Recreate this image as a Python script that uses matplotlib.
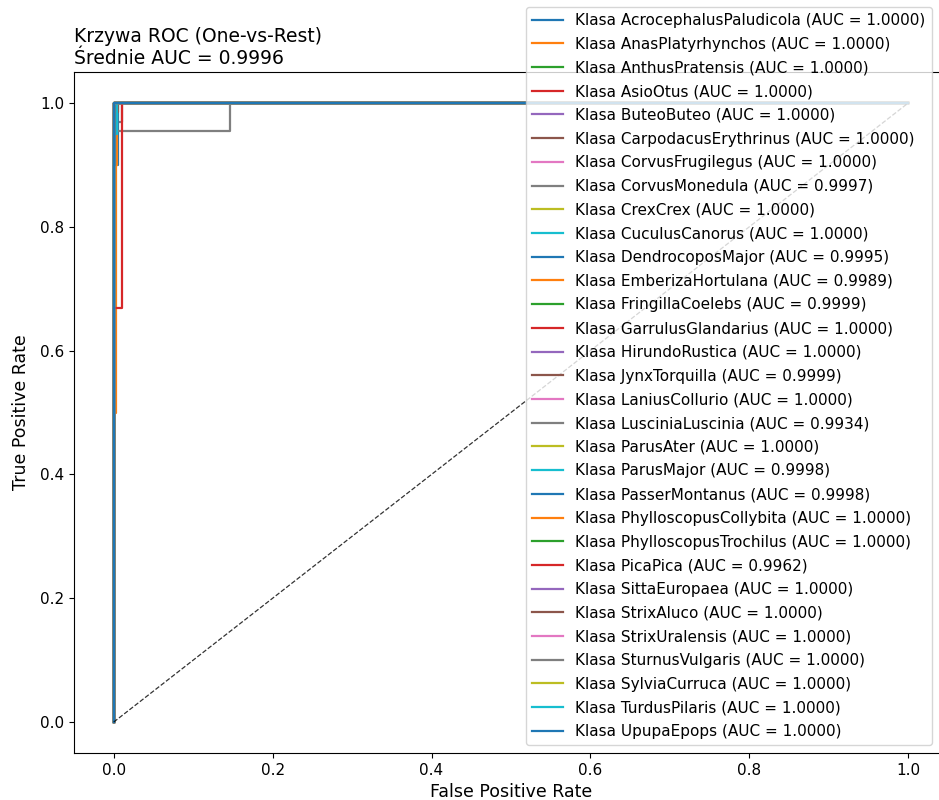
import matplotlib
import matplotlib.pyplot as plt

matplotlib.use('Agg')

# nazwy klas i AUC z legendy
class_names = [
    'AcrocephalusPaludicola', 'AnasPlatyrhynchos', 'AnthusPratensis', 'AsioOtus',
    'ButeoButeo', 'CarpodacusErythrinus', 'CorvusFrugilegus', 'CorvusMonedula',
    'CrexCrex', 'CuculusCanorus', 'DendrocoposMajor', 'EmberizaHortulana',
    'FringillaCoelebs', 'GarrulusGlandarius', 'HirundoRustica', 'JynxTorquilla',
    'LaniusCollurio', 'LusciniaLuscinia', 'ParusAter', 'ParusMajor',
    'PasserMontanus', 'PhylloscopusCollybita', 'PhylloscopusTrochilus', 'PicaPica',
    'SittaEuropaea', 'StrixAluco', 'StrixUralensis', 'SturnusVulgaris',
    'SylviaCurruca', 'TurdusPilaris', 'UpupaEpops',
]
auc_values = [
    1.0000, 1.0000, 1.0000, 1.0000, 1.0000, 1.0000, 1.0000, 0.9997,
    1.0000, 1.0000, 0.9995, 0.9989, 0.9999, 1.0000, 1.0000, 0.9999,
    1.0000, 0.9934, 1.0000, 0.9998, 0.9998, 1.0000, 1.0000, 0.9962,
    1.0000, 1.0000, 1.0000, 1.0000, 1.0000, 1.0000, 1.0000,
]
mean_auc = 0.9996

# krzywe idealne (AUC = 1)
perfect_fpr = [0.0, 0.0, 1.0]
perfect_tpr = [0.0, 1.0, 1.0]

# krzywe z odstepstwami
roc_points = {
    'CorvusMonedula': ([0, 0, 0.01, 0.01, 1], [0, 0.97, 0.97, 1, 1]),
    'DendrocoposMajor': ([0, 0, 0.005, 0.005, 1], [0, 0.9, 0.9, 1, 1]),
    'EmberizaHortulana': ([0, 0, 0.003, 0.003, 0.004, 0.004, 1], [0, 0.5, 0.5, 0.9, 0.9, 1, 1]),
    'FringillaCoelebs': ([0, 0, 0.002, 0.002, 1], [0, 0.95, 0.95, 1, 1]),
    'JynxTorquilla': ([0, 0, 0.006, 0.006, 1], [0, 0.985, 0.985, 1, 1]),
    'LusciniaLuscinia': ([0, 0, 0.146, 0.146, 1], [0, 0.955, 0.955, 1, 1]),
    'ParusMajor': ([0, 0, 0.004, 0.004, 1], [0, 0.95, 0.95, 1, 1]),
    'PasserMontanus': ([0, 0, 0.002, 0.002, 1], [0, 0.9, 0.9, 1, 1]),
    'PicaPica': ([0, 0, 0.011, 0.011, 1], [0, 0.669, 0.669, 1, 1]),
}

fig = plt.figure(figsize=(9.39, 8), dpi=100)
ax = fig.add_axes([0.0788, 0.05875, 0.9308, 0.85125])

for name, auc in zip(class_names, auc_values):
    fpr, tpr = roc_points.get(name, (perfect_fpr, perfect_tpr))
    ax.plot(fpr, tpr, lw=1.6, label=f'Klasa {name} (AUC = {auc:.4f})')

ax.plot([0, 1], [0, 1], 'k--', lw=0.9, alpha=0.8)
ax.set_xlabel('False Positive Rate', fontsize=12.5)
ax.set_ylabel('True Positive Rate', fontsize=12.5, labelpad=7)
ax.tick_params(labelsize=11)
ax.set_title(f'Krzywa ROC (One-vs-Rest)\nŚrednie AUC = {mean_auc:.4f}', loc='left', fontsize=13.5)
ax.legend(loc='lower right', bbox_to_anchor=(0.99, 0), fontsize=11, labelspacing=0.57)

fig.savefig('out.png', dpi=100)
plt.close(fig)
